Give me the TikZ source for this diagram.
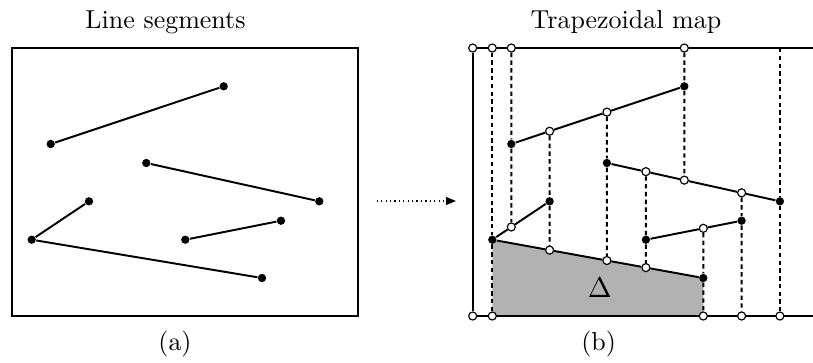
\documentclass[tikz,border=0pt]{standalone}
\usepackage{tikz}
\usetikzlibrary{calc,arrows.meta,backgrounds}

\definecolor{trapgray}{RGB}{178,178,178}

\begin{document}
\begin{tikzpicture}[
    x=0.385pt, y=-0.385pt,
    seg/.style={line width=0.75pt},
    frame/.style={line width=0.75pt},
    wall/.style={line width=0.75pt, dash pattern=on 1.7pt off 1.3pt},
    endpt/.style={circle, fill=black, inner sep=0pt, minimum size=3.2pt},
    cross/.style={circle, draw, fill=white, line width=0.45pt, inner sep=0pt, minimum size=3.1pt},
    caption/.style={font=\normalsize, anchor=base}
]
\useasboundingbox (0,0) rectangle (813,362);

% Left panel - input segments
\draw[frame] (12.3,48) rectangle (358.3,316);
\node[endpt] (la) at (50.7,144) {};
\node[endpt] (lb) at (223.7,86.3) {};
\node[endpt] (lc) at (146.3,163) {};
\node[endpt] (ld) at (319.3,201.3) {};
\node[endpt] (le) at (89,201.3) {};
\node[endpt] (lf) at (31.7,239.7) {};
\node[endpt] (lg) at (185.3,239.7) {};
\node[endpt] (lh) at (281,220.7) {};
\node[endpt] (li) at (262,278) {};

\begin{scope}[on background layer]
\draw[seg] (la) -- (lb);
\draw[seg] (lc) -- (ld);
\draw[seg] (lf) -- (le);
\draw[seg] (lf) -- (li);
\draw[seg] (lg) -- (lh);
\end{scope}

% Right panel - same segments, shifted
\begin{scope}[shift={(460.6,0)}]
\node[endpt] (ra) at (50.7,144) {};
\node[endpt] (rb) at (223.7,86.3) {};
\node[endpt] (rc) at (146.3,163) {};
\node[endpt] (rd) at (319.3,201.3) {};
\node[endpt] (re) at (89,201.3) {};
\node[endpt] (rf) at (31.7,239.7) {};
\node[endpt] (rg) at (185.3,239.7) {};
\node[endpt] (rh) at (281,220.7) {};
\node[endpt] (ri) at (242.7,278) {};
% frame corners
\node[cross] (tl) at (12.1,48) {};
\node[cross] (bl) at (12.1,316) {};
\end{scope}
\coordinate (tr) at (813,48);
\coordinate (br) at (813,316);

% points where the walls hit the segments
\node[cross] (ab-e) at ($(ra)!0.2214!(rb)$) {};
\node[cross] (ab-c) at ($(ra)!0.5526!(rb)$) {};
\node[cross] (fe-a) at ($(rf)!0.3316!(re)$) {};
\node[cross] (fi-e) at ($(rf)!0.2716!(ri)$) {};
\node[cross] (fi-c) at ($(rf)!0.5431!(ri)$) {};
\node[cross] (fi-g) at ($(rf)!0.728!(ri)$) {};
\node[cross] (cd-g) at ($(rc)!0.2254!(rd)$) {};
\node[cross] (cd-b) at ($(rc)!0.4474!(rd)$) {};
\node[cross] (cd-h) at ($(rc)!0.7786!(rd)$) {};
\node[cross] (gh-i) at ($(rg)!0.5998!(rh)$) {};

% points on the top and bottom edges
\node[cross] (tf) at (rf |- tl) {};
\node[cross] (ta) at (ra |- tl) {};
\node[cross] (tb) at (rb |- tl) {};
\coordinate (td) at (rd |- tl);
\node[cross] (bf) at (rf |- bl) {};
\node[cross] (bi) at (ri |- bl) {};
\node[cross] (bh) at (rh |- bl) {};
\node[cross] (bd) at (rd |- bl) {};

\begin{scope}[on background layer]
% trapezoid Delta
\fill[trapgray] (rf.center) -- (ri.center) -- (bi.center) -- (bf.center) -- cycle;
% bounding box edges
\draw[frame] (tr) -- (tl) -- (bl) -- (br);
% vertical walls
\draw[wall] (tf) -- (rf) -- (bf);
\draw[wall] (ta) -- (ra) -- (fe-a);
\draw[wall] (ab-e) -- (re) -- (fi-e);
\draw[wall] (ab-c) -- (rc) -- (fi-c);
\draw[wall] (cd-g) -- (rg) -- (fi-g);
\draw[wall] (tb) -- (rb) -- (cd-b);
\draw[wall] (gh-i) -- (ri) -- (bi);
\draw[wall] (cd-h) -- (rh) -- (bh);
\draw[wall] (td) -- (rd) -- (bd);
% segments
\draw[seg] (ra) -- (ab-e) -- (ab-c) -- (rb);
\draw[seg] (rc) -- (cd-g) -- (cd-b) -- (cd-h) -- (rd);
\draw[seg] (rf) -- (fe-a) -- (re);
\draw[seg] (rf) -- (fi-e) -- (fi-c) -- (fi-g) -- (ri);
\draw[seg] (rg) -- (gh-i) -- (rh);
\end{scope}

\node[anchor=base, scale=1.1] (delta) at (599.7,297.3) {$\Delta$};

% arrow between the panels
\coordinate (from) at (376.7,201);
\coordinate (to) at (456,201);
\draw[line width=0.5pt, dash pattern=on 0.5pt off 1.2pt, -{Triangle[length=3.8pt,width=3pt]}] (from) -- (to);

% titles and tags
\node[caption] (ttl-a) at (165.5,28) {Line segments};
\node[caption] (ttl-b) at (626,28) {Trapezoidal map};
\node[caption] (tag-a) at (175,350.5) {(a)};
\node[caption] (tag-b) at (598.7,350.5) {(b)};

\end{tikzpicture}
\end{document}
